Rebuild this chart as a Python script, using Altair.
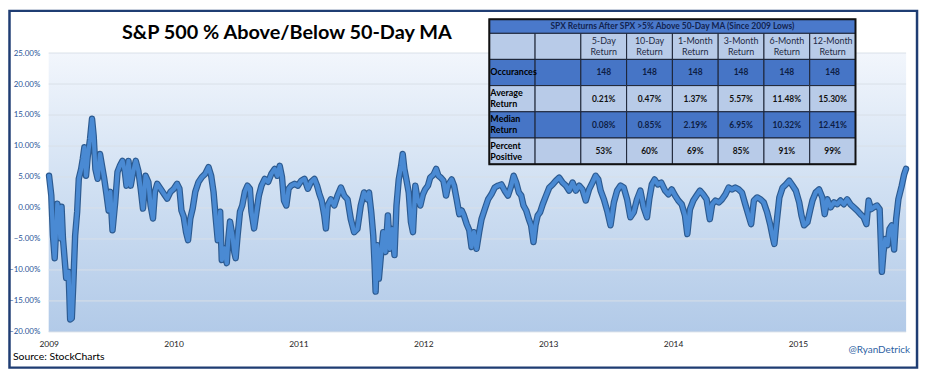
import altair as alt
import pandas as pd

# ---------------- data ----------------
years = [
    2009.003, 2009.021, 2009.034, 2009.048, 2009.061, 2009.069, 2009.082, 2009.093, 2009.103, 2009.114,
    2009.127, 2009.140, 2009.159, 2009.172, 2009.185, 2009.199, 2009.212, 2009.228, 2009.241, 2009.260,
    2009.273, 2009.286, 2009.299, 2009.313, 2009.331, 2009.347, 2009.360, 2009.374, 2009.392, 2009.411,
    2009.427, 2009.445, 2009.464, 2009.480, 2009.493, 2009.511, 2009.533, 2009.551, 2009.570, 2009.591,
    2009.609, 2009.623, 2009.639, 2009.657, 2009.676, 2009.697, 2009.718, 2009.737, 2009.755, 2009.776,
    2009.798, 2009.816, 2009.835, 2009.851, 2009.869, 2009.896, 2009.922, 2009.949, 2009.975, 2010.002,
    2010.028, 2010.047, 2010.063, 2010.081, 2010.100, 2010.116, 2010.134, 2010.153, 2010.174, 2010.200,
    2010.227, 2010.253, 2010.280, 2010.301, 2010.320, 2010.338, 2010.354, 2010.373, 2010.386, 2010.407,
    2010.426, 2010.439, 2010.452, 2010.471, 2010.486, 2010.497, 2010.513, 2010.532, 2010.550, 2010.571,
    2010.592, 2010.611, 2010.624, 2010.645, 2010.664, 2010.683, 2010.704, 2010.730, 2010.757, 2010.783,
    2010.810, 2010.831, 2010.850, 2010.868, 2010.884, 2010.903, 2010.921, 2010.942, 2010.969, 2010.995,
    2011.022, 2011.048, 2011.075, 2011.101, 2011.128, 2011.149, 2011.167, 2011.186, 2011.207, 2011.220,
    2011.234, 2011.260, 2011.287, 2011.313, 2011.340, 2011.366, 2011.393, 2011.419, 2011.446, 2011.472,
    2011.499, 2011.525, 2011.552, 2011.565, 2011.583, 2011.599, 2011.610, 2011.618, 2011.631, 2011.644,
    2011.663, 2011.679, 2011.697, 2011.716, 2011.732, 2011.750, 2011.769, 2011.785, 2011.803, 2011.822,
    2011.835, 2011.848, 2011.864, 2011.883, 2011.901, 2011.917, 2011.936, 2011.954, 2011.976, 2011.997,
    2012.015, 2012.037, 2012.055, 2012.082, 2012.103, 2012.121, 2012.140, 2012.161, 2012.182, 2012.201,
    2012.227, 2012.246, 2012.267, 2012.288, 2012.307, 2012.325, 2012.347, 2012.368, 2012.386, 2012.405,
    2012.426, 2012.447, 2012.466, 2012.492, 2012.519, 2012.545, 2012.572, 2012.598, 2012.625, 2012.651,
    2012.678, 2012.704, 2012.723, 2012.744, 2012.765, 2012.784, 2012.802, 2012.824, 2012.845, 2012.863,
    2012.882, 2012.898, 2012.916, 2012.935, 2012.956, 2012.983, 2013.009, 2013.036, 2013.062, 2013.088,
    2013.115, 2013.142, 2013.168, 2013.195, 2013.221, 2013.248, 2013.274, 2013.301, 2013.327, 2013.354,
    2013.380, 2013.401, 2013.420, 2013.446, 2013.473, 2013.499, 2013.526, 2013.552, 2013.579, 2013.605,
    2013.632, 2013.658, 2013.685, 2013.711, 2013.738, 2013.764, 2013.791, 2013.809, 2013.830, 2013.852,
    2013.878, 2013.905, 2013.936, 2013.963, 2013.989, 2014.016, 2014.042, 2014.069, 2014.095, 2014.114,
    2014.135, 2014.162, 2014.188, 2014.215, 2014.241, 2014.268, 2014.294, 2014.313, 2014.339, 2014.366,
    2014.392, 2014.419, 2014.445, 2014.472, 2014.498, 2014.525, 2014.551, 2014.578, 2014.604, 2014.625,
    2014.647, 2014.673, 2014.700, 2014.726, 2014.753, 2014.779, 2014.798, 2014.811, 2014.832, 2014.851,
    2014.877, 2014.904, 2014.930, 2014.957, 2014.983, 2015.010, 2015.028, 2015.049, 2015.076, 2015.097,
    2015.116, 2015.142, 2015.169, 2015.195, 2015.214, 2015.235, 2015.261, 2015.288, 2015.314, 2015.341,
    2015.367, 2015.394, 2015.420, 2015.447, 2015.473, 2015.500, 2015.526, 2015.548, 2015.566, 2015.585,
    2015.606, 2015.632, 2015.654, 2015.672, 2015.685, 2015.699, 2015.717, 2015.733, 2015.751, 2015.770,
    2015.786, 2015.804, 2015.831, 2015.850, 2015.865,
]
pct = [
    5.2, 2.0, -4.4, -8.1, -2.8, 0.7, -0.6, -4.9, 0.2, -4.9,
    -8.1, -11.3, -10.3, -18.0, -17.8, -11.3, -4.4, -0.6, 4.7, 6.3,
    7.9, 9.8, 5.2, 8.4, 11.1, 14.4, 11.7, 6.3, 4.7, 8.7,
    6.8, 4.7, 2.0, -0.4, 2.6, -3.6, 1.0, 5.8, 6.8, 7.6,
    6.0, 3.6, 7.6, 3.6, 5.8, 7.6, 6.0, 3.1, -0.1, 5.2,
    4.2, 0.4, -1.7, 2.6, 3.9, 3.1, 2.3, 1.5, 2.6, 3.1,
    3.9, 3.1, -0.4, -1.4, -3.9, -5.2, -1.7, -0.1, 2.6, 4.2,
    5.0, 5.5, 6.6, 5.2, 2.6, -1.7, -5.2, -0.6, -8.4, -6.5,
    -8.9, -4.9, -2.2, -4.4, -7.1, -8.1, -4.4, -0.6, 0.4, 2.6,
    3.6, 3.1, -0.6, -3.3, -0.6, 2.0, 3.6, 4.7, 4.2, 5.5,
    6.3, 5.2, 6.8, 5.0, 1.2, 0.4, 3.1, 3.6, 3.9, 3.6,
    4.4, 4.7, 3.1, 4.2, 4.7, 3.6, 2.3, 1.2, -1.2, -3.3,
    0.4, 1.4, 0.4, 2.0, 3.3, 2.0, 1.4, -1.8, -3.9, -3.4,
    0.4, 2.5, 1.4, 2.5, -0.7, -4.4, -9.2, -13.5, -6.0, -11.4,
    -7.1, -3.9, -7.1, -1.2, -6.6, -3.4, -7.6, 0.4, 4.6, 6.8,
    8.7, 6.3, 4.6, 2.5, -2.3, -3.9, 3.6, 1.4, 0.4, 2.2,
    3.0, 3.6, 4.9, 5.4, 6.3, 5.2, 4.9, 4.4, 2.0, 3.8,
    4.6, 3.6, 1.4, -1.0, -0.4, -1.2, -2.6, -3.6, -6.3, -3.9,
    -6.6, -3.9, -1.8, -0.2, 1.4, 2.2, 3.3, 3.6, 3.8, 2.8,
    2.0, 3.6, 5.2, 4.1, 2.5, 2.0, 0.4, -0.4, -1.8, -2.8,
    -5.5, -2.8, -1.2, -0.7, 0.6, 2.0, 3.3, 3.8, 4.4, 4.9,
    4.1, 3.6, 2.8, 4.1, 2.8, 3.6, 3.0, 1.2, 3.0, 4.1,
    5.2, 4.6, 2.8, 1.4, -0.5, -2.8, 0.9, 2.8, 3.6, 3.3,
    1.4, -1.5, -0.7, 1.4, 2.8, 0.1, -1.5, 1.4, 3.8, 4.6,
    3.8, 4.1, 2.8, 2.2, 3.0, 2.0, 1.2, 0.6, -1.2, -4.2,
    -0.2, 1.2, 2.0, 2.8, 2.2, 1.4, -1.8, 0.6, 1.2, 0.9,
    1.4, 2.2, 3.3, 3.0, 3.3, 3.0, 2.5, 0.6, -1.2, -2.6,
    1.2, 1.7, 1.4, 0.9, -0.7, -2.8, -4.7, -5.8, -1.8, 1.7,
    3.3, 3.8, 4.4, 3.6, 2.8, 0.9, -1.2, -2.8, -2.3, -0.4,
    1.2, 2.5, 3.0, 1.7, -1.0, 1.4, 0.1, 0.9, 0.6, 1.2,
    0.6, 1.4, 0.6, 0.1, -0.4, -1.0, -1.5, -2.6, 1.2, -0.2,
    0.1, 0.4, -0.2, -10.3, -7.1, -5.0, -6.0, -3.4, -2.8, -6.7,
    -1.8, 1.4, 3.6, 5.4, 6.3,
]

y_ticks = [-20, -15, -10, -5, 0, 5, 10, 15, 20, 25]
x_ticks = [2009, 2010, 2011, 2012, 2013, 2014, 2015]

title_text = "S&P 500 % Above/Below 50-Day MA"
source_text = "Source:  StockCharts"
credit_text = "@RyanDetrick"

table_title = "SPX Returns After SPX >5% Above 50-Day MA (Since 2009 Lows)"
col_headers = ["5-Day\nReturn", "10-Day\nReturn", "1-Month\nReturn",
               "3-Month\nReturn", "6-Month\nReturn", "12-Month\nReturn"]
row_labels = ["Occurances", "Average\nReturn", "Median\nReturn", "Percent\nPositive"]
occurances = [148, 148, 148, 148, 148, 148]
avg_return = [0.21, 0.47, 1.37, 5.57, 11.48, 15.30]
median_return = [0.08, 0.85, 2.19, 6.95, 10.32, 12.41]
pct_positive = [53, 60, 69, 85, 91, 99]

# ---------------- styling ----------------
W, H = 864, 281
FONT = "Lato"
LIGHT = "#b8cbe8"
DARK = "#4675c6"
HEADER = "#4a79cb"
LINE_BLUE = "#4a8ad3"
LINE_EDGE = "#2c5a90"
FRAME = "#1f3d73"

one = alt.Data(values=[{}])

xs = alt.Scale(domain=[2009, 2015.866], nice=False, zero=False)
ys = alt.Scale(domain=[-20, 25], nice=False, zero=False)

line_df = pd.DataFrame({"year": years, "pct": pct})

bg = alt.Chart(one).mark_rect(
    fill=alt.Gradient(
        gradient="linear",
        stops=[alt.GradientStop(color="#f2f6fc", offset=0),
               alt.GradientStop(color="#cfdff2", offset=0.5),
               alt.GradientStop(color="#b2cae8", offset=1)],
        x1=0, x2=0, y1=0, y2=1,
    )
).encode(x=alt.value(0), x2=alt.value(W), y=alt.value(0), y2=alt.value(H))

grid = alt.Chart(pd.DataFrame({"tick": y_ticks})).mark_rule(
    color="#d9e0e8", strokeWidth=1
).encode(y=alt.Y("tick:Q", scale=ys, axis=None))

edge = alt.Chart(line_df).mark_line(
    color=LINE_EDGE, strokeWidth=6.5, strokeJoin="round", strokeCap="round"
).encode(
    x=alt.X("year:Q", scale=xs, axis=None),
    y=alt.Y("pct:Q", scale=ys, axis=None),
)

main = alt.Chart(line_df).mark_line(
    color=LINE_BLUE, strokeWidth=4.2, strokeJoin="round", strokeCap="round"
).encode(
    x=alt.X("year:Q", scale=xs, axis=alt.Axis(
        values=x_ticks, format="d", grid=False, ticks=False, domain=False,
        labelFont=FONT, labelFontSize=8.5, labelColor="#222222", labelPadding=8,
        labelFlush=False, labelOverlap=False, title=None, orient="bottom")),
    y=alt.Y("pct:Q", scale=ys, axis=alt.Axis(
        values=y_ticks, labelExpr="format(datum.value, '.2f') + '%'",
        grid=False, ticks=False, domain=False,
        labelFont=FONT, labelFontSize=8, labelColor="#2a5597", labelPadding=9,
        title=None, orient="left")),
)

title = alt.Chart(pd.DataFrame({"t": [title_text]})).mark_text(
    font=FONT, fontSize=20, fontWeight="bold", color="#000000", align="center", baseline="alphabetic"
).encode(x=alt.value(240), y=alt.value(-14), text="t:N")

source = alt.Chart(pd.DataFrame({"t": [source_text]})).mark_text(
    font=FONT, fontSize=10.5, color="#000000", align="left", baseline="alphabetic"
).encode(x=alt.value(-36), y=alt.value(309), text="t:N")

credit = alt.Chart(pd.DataFrame({"t": [credit_text]})).mark_text(
    font=FONT, fontSize=10, color="#2e5fa3", align="right", baseline="alphabetic"
).encode(x=alt.value(868), y=alt.value(302), text="t:N")

frame = alt.Chart(one).mark_rect(filled=False, color=FRAME, strokeWidth=2.5).encode(
    x=alt.value(-39.5), x2=alt.value(875), y=alt.value(-42.5), y2=alt.value(317)
)

# ---------------- table ----------------
row_fill = [LIGHT, DARK, LIGHT, DARK, LIGHT]
cells = pd.DataFrame([{"r": r, "c": c, "fill": row_fill[r]} for r in range(5) for c in range(8)])

hdr_df = pd.DataFrame({"r": [0] * 6, "c": list(range(2, 8)), "t": col_headers})
lab_df = pd.DataFrame({"r": [1, 2, 3, 4], "c": [0] * 4, "t": row_labels})
lab_df["lines"] = [t.count("\n") + 1 for t in row_labels]
val_rows = []
for c in range(6):
    val_rows.append({"r": 1, "c": c + 2, "t": f"{occurances[c]}", "tc": "#0d1d44"})
    val_rows.append({"r": 2, "c": c + 2, "t": f"{avg_return[c]:.2f}%", "tc": "#111111"})
    val_rows.append({"r": 3, "c": c + 2, "t": f"{median_return[c]:.2f}%", "tc": "#0d1d44"})
    val_rows.append({"r": 4, "c": c + 2, "t": f"{pct_positive[c]}%", "tc": "#111111"})
val_df = pd.DataFrame(val_rows)

tx = alt.Scale(type="band", domain=list(range(8)), range=[444, 813], paddingInner=0, paddingOuter=0)
ty = alt.Scale(type="band", domain=list(range(5)), range=[-20, 112], paddingInner=0, paddingOuter=0)

tbl_head_rect = alt.Chart(one).mark_rect(fill=HEADER, stroke="#1b2233", strokeWidth=1).encode(
    x=alt.value(444), x2=alt.value(813), y=alt.value(-34), y2=alt.value(-20)
)
tbl_head_text = alt.Chart(pd.DataFrame({"t": [table_title]})).mark_text(
    font=FONT, fontSize=8.5, fontWeight="bold", color="#12234f", align="center", baseline="middle"
).encode(x=alt.value(628.5), y=alt.value(-27), text="t:N")

tbl_cells = alt.Chart(cells).mark_rect(stroke="#1b2233", strokeWidth=1).encode(
    x=alt.X("c:O", scale=tx, axis=None),
    y=alt.Y("r:O", scale=ty, axis=None),
    fill=alt.Fill("fill:N", scale=None),
)

tbl_hdr = alt.Chart(hdr_df).mark_text(
    font=FONT, fontSize=9, color="#1e2a44", align="center", baseline="middle",
    lineBreak="\n", lineHeight=11, dy=-5.5
).encode(x=alt.X("c:O", scale=tx, axis=None), y=alt.Y("r:O", scale=ty, axis=None), text="t:N")

tbl_lab1 = alt.Chart(lab_df).transform_filter("datum.lines == 1").mark_text(
    font=FONT, fontSize=9, fontWeight="bold", color="#000000", align="left", baseline="middle",
    dx=-22
).encode(x=alt.X("c:O", scale=tx, axis=None), y=alt.Y("r:O", scale=ty, axis=None), text="t:N")

tbl_lab2 = alt.Chart(lab_df).transform_filter("datum.lines == 2").mark_text(
    font=FONT, fontSize=9, fontWeight="bold", color="#000000", align="left", baseline="middle",
    lineBreak="\n", lineHeight=11, dx=-22, dy=-5.5
).encode(x=alt.X("c:O", scale=tx, axis=None), y=alt.Y("r:O", scale=ty, axis=None), text="t:N")

tbl_val = alt.Chart(val_df).mark_text(
    font=FONT, fontSize=8.5, fontWeight="bold", align="center", baseline="middle"
).encode(
    x=alt.X("c:O", scale=tx, axis=None), y=alt.Y("r:O", scale=ty, axis=None),
    text="t:N", color=alt.Color("tc:N", scale=None),
)

tbl_border = alt.Chart(one).mark_rect(filled=False, color="#111111", strokeWidth=2).encode(
    x=alt.value(444), x2=alt.value(813), y=alt.value(-34), y2=alt.value(112)
)

chart = alt.layer(
    bg, grid, edge, main, title, source, credit,
    tbl_cells, tbl_head_rect, tbl_head_text, tbl_hdr, tbl_lab1, tbl_lab2, tbl_val, tbl_border, frame,
).resolve_scale(
    x="independent", y="independent"
).properties(
    width=W, height=H,
    padding={"left": 41, "top": 44, "right": 15, "bottom": 38},
    autosize=alt.AutoSizeParams(type="none"),
    background="#ffffff",
).configure_view(stroke=None)

chart.save("out.html", embed_options={"renderer": "svg", "actions": False})
